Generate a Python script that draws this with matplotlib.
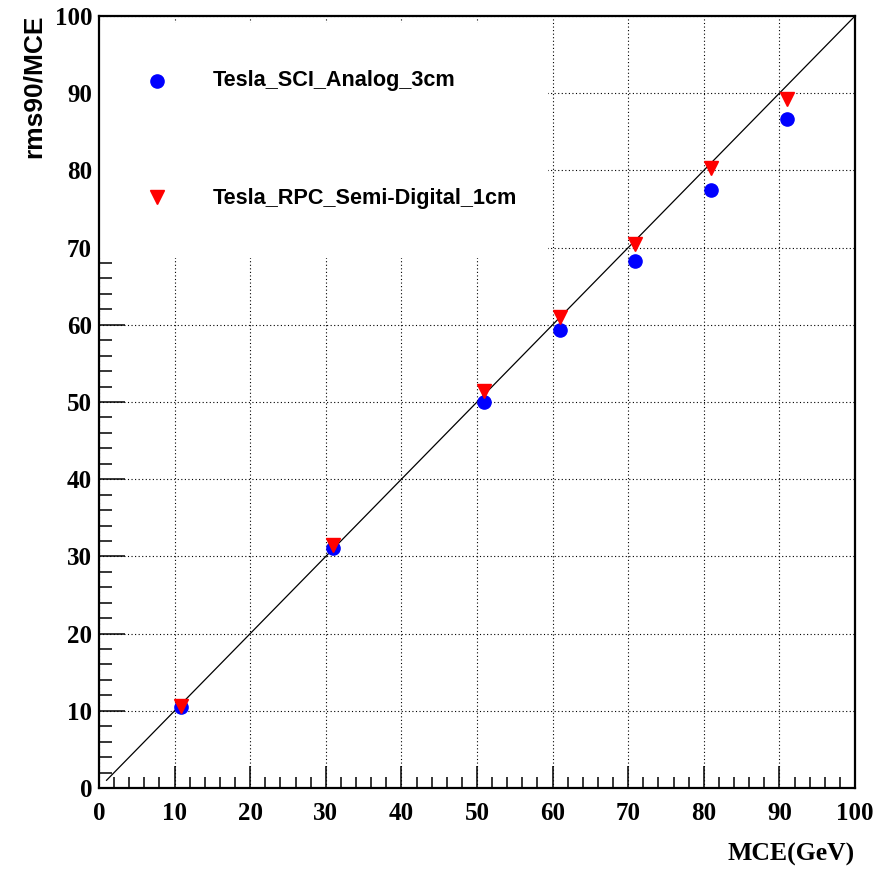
import matplotlib
matplotlib.use('Agg')
import matplotlib.pyplot as plt
from matplotlib.patches import Rectangle

# values
mce = [10.9, 30.9, 50.9, 61.0, 70.9, 81.0, 91.0]
sci_analog = [10.5, 31.1, 50.0, 59.3, 68.2, 77.4, 86.6]
rpc_semidigital = [10.6, 31.5, 51.4, 61.0, 70.5, 80.3, 89.2]
diag_x = [1, 100]
diag_y = [1, 100]
labels = ['Tesla_SCI_Analog_3cm', 'Tesla_RPC_Semi-Digital_1cm']

fig = plt.figure(figsize=(8.78, 8.69), dpi=100)
ax = fig.add_axes([99 / 878, 1 - 788 / 869, (855 - 99) / 878, (788 - 16) / 869])

ax.set_xlim(0, 100)
ax.set_ylim(0, 100)
ax.set_xticks(range(0, 101, 10))
ax.set_yticks(range(0, 101, 10))
ax.set_xticks(range(0, 101, 2), minor=True)
ax.set_yticks(range(0, 101, 2), minor=True)

ax.grid(True, which='major', color='black', linestyle=(0, (1, 2.2)), linewidth=0.8)

ax.tick_params(axis='both', which='both', direction='in', top=False, right=False, width=1.1)
ax.tick_params(axis='y', which='major', length=19, pad=5)
ax.tick_params(axis='y', which='minor', length=9.5)
ax.tick_params(axis='x', which='major', length=16, pad=10)
ax.tick_params(axis='x', which='minor', length=8)
for lab in ax.get_xticklabels() + ax.get_yticklabels():
    lab.set_family('Liberation Serif')
    lab.set_fontweight('bold')
    lab.set_fontsize(18)

for sp in ax.spines.values():
    sp.set_linewidth(1.6)

ax.plot(diag_x, diag_y, color='black', linewidth=0.9, zorder=2.6)
ax.plot(mce, sci_analog, 'o', color='blue', markersize=9.5, zorder=3)
ax.plot(mce, rpc_semidigital, 'v', color='red', markersize=10, zorder=3.1)

# white legend box hiding the grid in the upper left corner
ax.add_patch(Rectangle((0.15, 68.6), 59.3, 30.5, facecolor='white', edgecolor='none', zorder=2.2))
ax.plot([7.7], [91.6], 'o', color='blue', markersize=9.5, zorder=3)
ax.plot([7.7], [76.5], 'v', color='red', markersize=10, zorder=3)
ax.text(15.1, 91.6, labels[0], fontsize=15.6, fontweight='bold', family='Liberation Sans',
        va='center', ha='left', zorder=3)
ax.text(15.1, 76.4, labels[1], fontsize=15.6, fontweight='bold', family='Liberation Sans',
        va='center', ha='left', zorder=3)

fig.text(34 / 878, 1 - 15 / 869, 'rms90/MCE', rotation=90, ha='center', va='top',
         fontsize=19, fontweight='bold', family='Liberation Sans')
fig.text(855 / 878, 1 - 861 / 869, 'MCE(GeV)', ha='right', va='baseline',
         fontsize=18.5, fontweight='bold', family='Liberation Serif')

fig.savefig('out.png', dpi=100)
